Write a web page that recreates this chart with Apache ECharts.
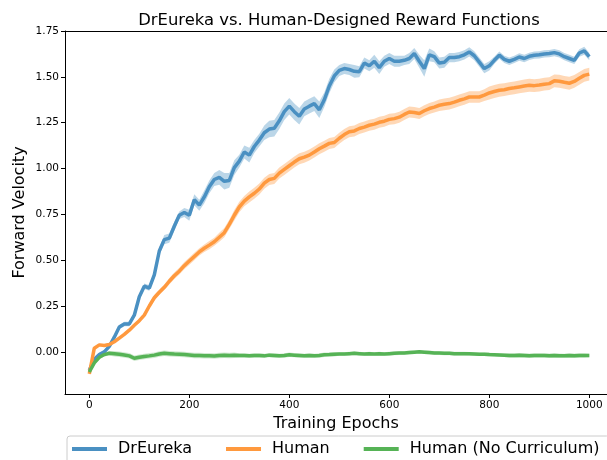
<!DOCTYPE html>
<html>
<head>
<meta charset="utf-8">
<script src="https://cdn.jsdelivr.net/npm/echarts@6/dist/echarts.min.js"></script>
<style>
  html, body { margin: 0; padding: 0; background: #fff; }
  #chart { width: 607px; height: 460px; }
</style>
</head>
<body>
<div id="chart"></div>
<script>
// ========================================
// 数据
// ========================================
const epochs = [
  0, 10, 20, 30, 40, 50, 60, 70, 80, 90,
  100, 110, 120, 130, 140, 150, 160, 170, 180, 190,
  200, 210, 220, 230, 240, 250, 260, 270, 280, 290,
  300, 310, 320, 330, 340, 350, 360, 370, 380, 390,
  400, 410, 420, 430, 440, 450, 460, 470, 480, 490,
  500, 510, 520, 530, 540, 550, 560, 570, 580, 590,
  600, 610, 620, 630, 640, 650, 660, 670, 680, 690,
  700, 710, 720, 730, 740, 750, 760, 770, 780, 790,
  800, 810, 820, 830, 840, 850, 860, 870, 880, 890,
  900, 910, 920, 930, 940, 950, 960, 970, 980, 990, 1000
];

const drEureka = [
  -0.10, -0.04, -0.015, 0.00, 0.03, 0.08, 0.135, 0.152, 0.152, 0.20,
  0.30, 0.358, 0.348, 0.42, 0.55, 0.612, 0.62, 0.685, 0.745, 0.76,
  0.745, 0.83, 0.80, 0.845, 0.90, 0.94, 0.952, 0.93, 0.935, 1.005,
  1.04, 1.09, 1.073, 1.12, 1.155, 1.195, 1.215, 1.22, 1.26, 1.31,
  1.34, 1.31, 1.285, 1.325, 1.34, 1.354, 1.32, 1.375, 1.45, 1.505,
  1.535, 1.545, 1.54, 1.53, 1.528, 1.575, 1.56, 1.585, 1.55, 1.585,
  1.60, 1.585, 1.585, 1.59, 1.60, 1.627, 1.585, 1.545, 1.62, 1.61,
  1.575, 1.58, 1.605, 1.605, 1.61, 1.62, 1.636, 1.615, 1.58, 1.545,
  1.56, 1.59, 1.618, 1.595, 1.585, 1.595, 1.608, 1.60, 1.612, 1.618,
  1.62, 1.625, 1.627, 1.632, 1.625, 1.61, 1.60, 1.59, 1.63, 1.642, 1.61
];
const drEurekaSpread = [
  0.008, 0.01, 0.01, 0.01, 0.01, 0.012, 0.012, 0.012, 0.012, 0.012,
  0.015, 0.015, 0.015, 0.02, 0.02, 0.025, 0.025, 0.025, 0.02, 0.025,
  0.03, 0.03, 0.03, 0.035, 0.035, 0.035, 0.04, 0.045, 0.04, 0.04,
  0.035, 0.035, 0.04, 0.035, 0.035, 0.04, 0.045, 0.045, 0.045, 0.045,
  0.045, 0.045, 0.045, 0.04, 0.04, 0.04, 0.045, 0.04, 0.04, 0.035,
  0.03, 0.03, 0.03, 0.035, 0.03, 0.03, 0.03, 0.035, 0.035, 0.03,
  0.03, 0.03, 0.03, 0.025, 0.03, 0.03, 0.035, 0.045, 0.035, 0.03,
  0.03, 0.03, 0.025, 0.025, 0.025, 0.025, 0.025, 0.025, 0.025, 0.025,
  0.025, 0.02, 0.02, 0.02, 0.02, 0.02, 0.02, 0.02, 0.02, 0.02,
  0.02, 0.02, 0.02, 0.02, 0.02, 0.02, 0.02, 0.02, 0.02, 0.022, 0.02
];

const human = [
  -0.12, 0.02, 0.038, 0.035, 0.04, 0.055, 0.075, 0.095, 0.118, 0.145,
  0.17, 0.20, 0.25, 0.295, 0.325, 0.352, 0.385, 0.415, 0.44, 0.47,
  0.495, 0.52, 0.545, 0.565, 0.582, 0.60, 0.625, 0.65, 0.695, 0.745,
  0.79, 0.822, 0.845, 0.865, 0.888, 0.92, 0.94, 0.946, 0.975, 0.995,
  1.015, 1.035, 1.053, 1.062, 1.073, 1.09, 1.108, 1.122, 1.137, 1.142,
  1.165, 1.185, 1.20, 1.205, 1.218, 1.226, 1.236, 1.242, 1.252, 1.258,
  1.268, 1.272, 1.28, 1.295, 1.308, 1.305, 1.30, 1.315, 1.327, 1.335,
  1.345, 1.35, 1.354, 1.362, 1.372, 1.38, 1.39, 1.39, 1.39, 1.40,
  1.412, 1.42, 1.427, 1.43, 1.436, 1.44, 1.445, 1.45, 1.454, 1.452,
  1.455, 1.46, 1.463, 1.478, 1.476, 1.47, 1.465, 1.475, 1.492, 1.508, 1.515
];
const humanSpread = [
  0.008, 0.008, 0.008, 0.008, 0.008, 0.008, 0.008, 0.008, 0.008, 0.008,
  0.012, 0.012, 0.015, 0.015, 0.015, 0.015, 0.018, 0.018, 0.018, 0.02,
  0.02, 0.02, 0.02, 0.02, 0.022, 0.022, 0.025, 0.025, 0.025, 0.028,
  0.028, 0.028, 0.03, 0.03, 0.03, 0.03, 0.03, 0.03, 0.03, 0.03,
  0.03, 0.03, 0.03, 0.03, 0.03, 0.03, 0.03, 0.03, 0.03, 0.03,
  0.03, 0.03, 0.03, 0.03, 0.03, 0.03, 0.03, 0.03, 0.03, 0.03,
  0.03, 0.03, 0.03, 0.03, 0.03, 0.03, 0.03, 0.03, 0.03, 0.03,
  0.032, 0.032, 0.032, 0.032, 0.032, 0.032, 0.032, 0.032, 0.032, 0.032,
  0.035, 0.035, 0.035, 0.035, 0.035, 0.035, 0.035, 0.035, 0.035, 0.035,
  0.035, 0.035, 0.035, 0.035, 0.035, 0.035, 0.035, 0.035, 0.035, 0.035, 0.035
];

const humanNoCurr = [
  -0.11, -0.06, -0.03, -0.015, -0.008, -0.01, -0.013, -0.017, -0.022, -0.035,
  -0.03, -0.025, -0.022, -0.018, -0.012, -0.008, -0.01, -0.012, -0.013, -0.015,
  -0.017, -0.02, -0.02, -0.022, -0.022, -0.023, -0.02, -0.018, -0.02, -0.018,
  -0.02, -0.02, -0.022, -0.02, -0.02, -0.022, -0.018, -0.02, -0.022, -0.02,
  -0.016, -0.018, -0.02, -0.022, -0.02, -0.022, -0.02, -0.016, -0.015, -0.013,
  -0.012, -0.012, -0.01, -0.008, -0.01, -0.012, -0.01, -0.012, -0.01, -0.012,
  -0.01, -0.008, -0.007, -0.006, -0.004, -0.002, 0.0, -0.002, -0.004, -0.006,
  -0.007, -0.008, -0.008, -0.01, -0.01, -0.01, -0.011, -0.012, -0.013, -0.013,
  -0.015, -0.016, -0.017, -0.018, -0.02, -0.02, -0.019, -0.02, -0.021, -0.02,
  -0.02, -0.02, -0.021, -0.02, -0.021, -0.022, -0.02, -0.021, -0.02, -0.02, -0.02
];
const humanNoCurrSpread = [
  0.01, 0.01, 0.01, 0.01, 0.012, 0.015, 0.015, 0.015, 0.015, 0.015,
  0.015, 0.015, 0.015, 0.015, 0.015, 0.015, 0.015, 0.015, 0.015, 0.015,
  0.015, 0.015, 0.015, 0.015, 0.015, 0.015, 0.015, 0.015, 0.015, 0.015,
  0.012, 0.012, 0.012, 0.012, 0.012, 0.012, 0.012, 0.012, 0.012, 0.012,
  0.012, 0.012, 0.012, 0.012, 0.012, 0.012, 0.012, 0.012, 0.012, 0.012,
  0.01, 0.01, 0.01, 0.01, 0.01, 0.01, 0.01, 0.01, 0.01, 0.01,
  0.01, 0.01, 0.01, 0.01, 0.01, 0.01, 0.01, 0.01, 0.01, 0.01,
  0.01, 0.01, 0.01, 0.01, 0.01, 0.01, 0.01, 0.01, 0.01, 0.01,
  0.01, 0.01, 0.01, 0.01, 0.012, 0.012, 0.012, 0.012, 0.012, 0.012,
  0.012, 0.012, 0.012, 0.012, 0.012, 0.012, 0.012, 0.012, 0.012, 0.012, 0.01
];

const xTicks = [0, 200, 400, 600, 800, 1000];
const yTicks = [0, 0.25, 0.5, 0.75, 1.0, 1.25, 1.5, 1.75];

// ========================================
// 工具函数
// ========================================
function toPairs(values) {
  return epochs.map((x, i) => [x, values[i]]);
}

// 置信带：用 custom 系列一次画出整个多边形
function bandSeries(name, values, spread, color) {
  return {
    name: name + ' band',
    type: 'custom',
    silent: true,
    z: 1,
    data: [[epochs[0], values[0]]],
    renderItem: function(params, api) {
      const upper = [];
      const lower = [];
      for (let i = 0; i < epochs.length; i++) {
        upper.push(api.coord([epochs[i], values[i] + spread[i]]));
        lower.push(api.coord([epochs[i], values[i] - spread[i]]));
      }
      return {
        type: 'polygon',
        shape: { points: upper.concat(lower.reverse()) },
        style: { fill: color }
      };
    }
  };
}

function lineSeries(name, values, color) {
  return {
    name: name,
    type: 'line',
    z: 3,
    data: toPairs(values),
    showSymbol: false,
    symbol: 'none',
    lineStyle: { color: color, width: 3.5 },
    itemStyle: { color: color }
  };
}

// ========================================
// 图表
// ========================================
function initChart() {
  const chartDom = document.getElementById('chart');
  const myChart = echarts.init(chartDom);
  const font = 'DejaVu Sans';

  // 右侧边框在原图中被裁掉，这里让 x 轴一直延伸到画布边缘
  const xMin = -48.6;
  const xMax = 1035.4;

  const option = {
    backgroundColor: '#fff',
    animation: false,
    title: {
      text: 'DrEureka vs. Human-Designed Reward Functions',
      left: 334,
      textAlign: 'center',
      top: 8,
      textStyle: { fontFamily: font, fontSize: 16.4, fontWeight: 'normal', color: '#000' }
    },
    legend: {
      left: 67,
      top: 436,
      width: 620,
      padding: [2, 10, 14, 5],
      itemGap: 34,
      itemWidth: 35,
      itemHeight: 4,
      icon: 'rect',
      borderColor: '#cccccc',
      borderWidth: 1,
      borderRadius: 3,
      textStyle: { fontFamily: font, fontSize: 16, color: '#000', lineHeight: 22, padding: [0, 0, 0, 6] },
      data: ['DrEureka', 'Human', 'Human (No Curriculum)']
    },
    grid: {
      left: 65,
      right: 0,
      top: 31,
      bottom: 66
    },
    xAxis: [
      {
        type: 'value',
        min: xMin,
        max: xMax,
        name: 'Training Epochs',
        nameLocation: 'middle',
        nameGap: 21,
        nameTextStyle: { fontFamily: font, fontSize: 16, color: '#000' },
        axisLine: { show: true, onZero: false, lineStyle: { color: '#000', width: 1 } },
        axisTick: { show: true, length: 4, customValues: xTicks, lineStyle: { color: '#000' } },
        axisLabel: {
          customValues: xTicks,
          margin: 6,
          fontFamily: font,
          fontSize: 10.5,
          color: '#000',
          formatter: function(v) { return String(v); }
        },
        splitLine: { show: false }
      },
      {
        // 顶部边框
        type: 'value',
        position: 'top',
        min: xMin,
        max: xMax,
        axisLine: { show: true, onZero: false, lineStyle: { color: '#000', width: 1 } },
        axisTick: { show: false },
        axisLabel: { show: false },
        splitLine: { show: false }
      }
    ],
    yAxis: {
      type: 'value',
      min: -0.23,
      max: 1.75,
      name: 'Forward Velocity',
      nameLocation: 'middle',
      nameGap: 37,
      nameMoveOverlap: false,
      nameTextStyle: { fontFamily: font, fontSize: 16, color: '#000' },
      axisLine: { show: true, onZero: false, lineStyle: { color: '#000', width: 1 } },
      axisTick: { show: true, length: 4, customValues: yTicks, lineStyle: { color: '#000' } },
      axisLabel: {
        customValues: yTicks,
        margin: 6,
        fontFamily: font,
        fontSize: 10.5,
        color: '#000',
        formatter: function(v) { return v.toFixed(2); }
      },
      splitLine: { show: false }
    },
    series: [
      bandSeries('DrEureka', drEureka, drEurekaSpread, 'rgba(31,119,180,0.3)'),
      bandSeries('Human', human, humanSpread, 'rgba(255,127,14,0.3)'),
      bandSeries('Human (No Curriculum)', humanNoCurr, humanNoCurrSpread, 'rgba(44,160,44,0.22)'),
      lineSeries('DrEureka', drEureka, '#4a90c2'),
      lineSeries('Human', human, '#ff993e'),
      lineSeries('Human (No Curriculum)', humanNoCurr, '#56b356')
    ]
  };

  myChart.setOption(option);

  window.addEventListener('resize', function() {
    myChart.resize();
  });
}

initChart();
</script>
</body>
</html>
